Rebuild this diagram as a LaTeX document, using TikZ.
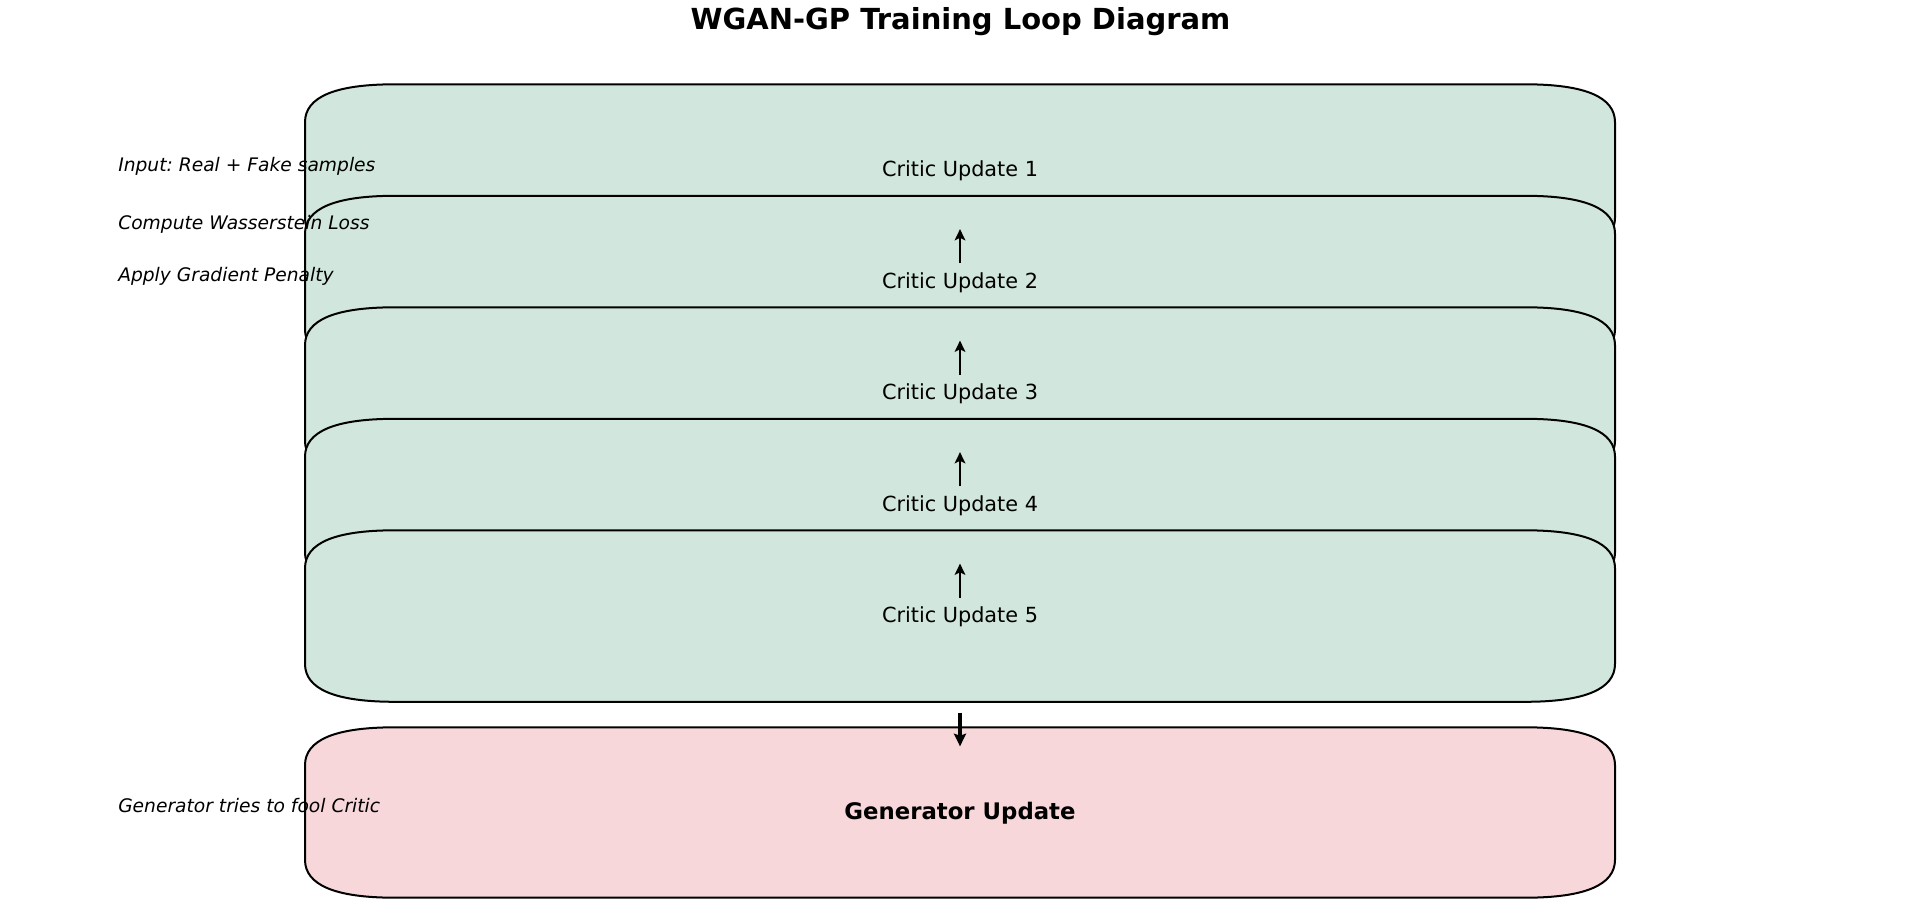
\documentclass[tikz,border=0pt]{standalone}
\usepackage{fontspec}
\setmainfont{DejaVu Sans}
\usepackage{tikz}
\usetikzlibrary{arrows.meta}
\definecolor{criticfill}{RGB}{209,231,221}
\definecolor{genfill}{RGB}{248,215,218}
\frenchspacing

\begin{document}
\begin{tikzpicture}[x=0.75pt,y=0.75pt,yscale=-1,xscale=1,
    boxline/.style={draw=black,line width=1.5pt},
    crit/.style={anchor=base,inner sep=0pt,font=\fontsize{15.6}{18}\selectfont},
    side/.style={anchor=base west,inner sep=0pt,font=\fontsize{14}{17}\selectfont\itshape},
    uparrow/.style={line width=1.9pt,-{Stealth[length=8.5pt,width=8pt,inset=2pt]}},
    downarrow/.style={line width=2.6pt,-{Stealth[length=9.5pt,width=9pt,inset=1.5pt]}}]
    \useasboundingbox (0,0) rectangle (1912,916);

    %Shape: Rounded Rect [critic 1]
    \draw [boxline,fill=criticfill] (395,84.3) -- (1525,84.3) .. controls (1585,84.3) and (1615,96.97) .. (1615,122.3) -- (1615,217.8) .. controls (1615,243.13) and (1585,255.8) .. (1525,255.8) -- (395,255.8) .. controls (335,255.8) and (305,243.13) .. (305,217.8) -- (305,122.3) .. controls (305,96.97) and (335,84.3) .. (395,84.3) -- cycle ;
    %Shape: Rounded Rect [critic 2]
    \draw [boxline,fill=criticfill] (395,195.8) -- (1525,195.8) .. controls (1585,195.8) and (1615,208.47) .. (1615,233.8) -- (1615,329.3) .. controls (1615,354.63) and (1585,367.3) .. (1525,367.3) -- (395,367.3) .. controls (335,367.3) and (305,354.63) .. (305,329.3) -- (305,233.8) .. controls (305,208.47) and (335,195.8) .. (395,195.8) -- cycle ;
    %Shape: Rounded Rect [critic 3]
    \draw [boxline,fill=criticfill] (395,307.3) -- (1525,307.3) .. controls (1585,307.3) and (1615,319.97) .. (1615,345.3) -- (1615,440.8) .. controls (1615,466.13) and (1585,478.8) .. (1525,478.8) -- (395,478.8) .. controls (335,478.8) and (305,466.13) .. (305,440.8) -- (305,345.3) .. controls (305,319.97) and (335,307.3) .. (395,307.3) -- cycle ;
    %Shape: Rounded Rect [critic 4]
    \draw [boxline,fill=criticfill] (395,418.8) -- (1525,418.8) .. controls (1585,418.8) and (1615,431.47) .. (1615,456.8) -- (1615,552.3) .. controls (1615,577.63) and (1585,590.3) .. (1525,590.3) -- (395,590.3) .. controls (335,590.3) and (305,577.63) .. (305,552.3) -- (305,456.8) .. controls (305,431.47) and (335,418.8) .. (395,418.8) -- cycle ;
    %Shape: Rounded Rect [critic 5]
    \draw [boxline,fill=criticfill] (395,530.3) -- (1525,530.3) .. controls (1585,530.3) and (1615,542.97) .. (1615,568.3) -- (1615,663.8) .. controls (1615,689.13) and (1585,701.8) .. (1525,701.8) -- (395,701.8) .. controls (335,701.8) and (305,689.13) .. (305,663.8) -- (305,568.3) .. controls (305,542.97) and (335,530.3) .. (395,530.3) -- cycle ;
    %Shape: Rounded Rect [generator]
    \draw [boxline,fill=genfill] (395,727.3) -- (1525,727.3) .. controls (1585,727.3) and (1615,739.97) .. (1615,765.3) -- (1615,859.7) .. controls (1615,885.03) and (1585,897.7) .. (1525,897.7) -- (395,897.7) .. controls (335,897.7) and (305,885.03) .. (305,859.7) -- (305,765.3) .. controls (305,739.97) and (335,727.3) .. (395,727.3) -- cycle ;

    % Text Node
    \node [anchor=base,inner sep=0pt,font=\fontsize{21.75}{26}\selectfont\bfseries] (title) at (960.5,29.3) {WGAN-GP Training Loop Diagram};
    % Text Node
    \node [crit] (c1) at (960,176.8) {Critic Update 1};
    % Text Node
    \node [crit] (c2) at (960,288.3) {Critic Update 2};
    % Text Node
    \node [crit] (c3) at (960,399.8) {Critic Update 3};
    % Text Node
    \node [crit] (c4) at (960,511.3) {Critic Update 4};
    % Text Node
    \node [crit] (c5) at (960,622.8) {Critic Update 5};
    % Text Node
    \node [anchor=base,inner sep=0pt,font=\fontsize{17.1}{20}\selectfont\bfseries] (gen) at (960,819.3) {Generator Update};
    % Text Node
    \node [side] (lblInput) at (118,171.7) {Input: Real + Fake samples};
    % Text Node
    \node [side] (lblLoss) at (118,230) {Compute Wasserstein Loss};
    % Text Node
    \node [side] (lblPenalty) at (118,281.7) {Apply Gradient Penalty};
    % Text Node
    \node [side] (lblFool) at (118,812.7) {Generator tries to fool Critic};

    %Straight Lines [arrows]
    \draw [uparrow] ([yshift=-6.75pt]c2.north) -- ([yshift=35.75pt]c1.south);
    \draw [uparrow] ([yshift=-6.75pt]c3.north) -- ([yshift=35.75pt]c2.south);
    \draw [uparrow] ([yshift=-6.75pt]c4.north) -- ([yshift=35.75pt]c3.south);
    \draw [uparrow] ([yshift=-6.75pt]c5.north) -- ([yshift=35.75pt]c4.south);
    \draw [downarrow] ([yshift=63.85pt]c5.south) -- ([yshift=-41.5pt]gen.north);

\end{tikzpicture}
\end{document}
